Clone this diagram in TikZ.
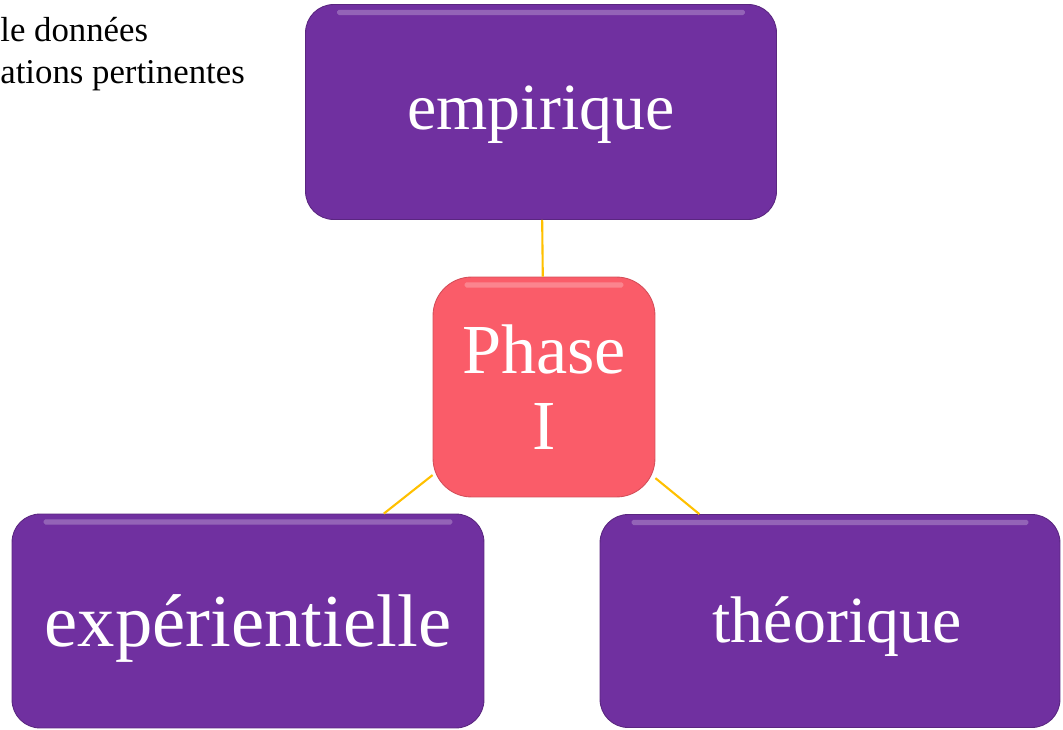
\documentclass[tikz,border=0pt]{standalone}
\usepackage{fontspec}
\setmainfont{Liberation Serif}
\usetikzlibrary{positioning}
\definecolor{mPurple}{HTML}{7030A0}
\definecolor{mRed}{HTML}{FA5C69}
\definecolor{mGold}{HTML}{FFC000}

\begin{document}
\begin{tikzpicture}[x=0.02cm, y=-0.02cm,
      gloss/.style={path picture={\fill[white, opacity=0.25, rounded corners=1pt]
          ([xshift=18pt, yshift=-3pt]path picture bounding box.north west) rectangle
          ([xshift=-18pt, yshift=-6pt]path picture bounding box.north east);}},
      pbox/.style={draw=mPurple!80!black, line width=0.5pt, fill=mPurple, rounded corners=16pt,
          text=white, inner sep=2pt, gloss},
      rbox/.style={draw=mRed!85!black, line width=0.5pt, fill=mRed, rounded corners=22pt,
          text=white, align=center, inner sep=2pt, gloss},
      link/.style={draw=mGold, line width=1.2pt}]
    \useasboundingbox (0,0) rectangle (1063,730);
    \node[anchor=base west, inner sep=0, font=\fontsize{19.8}{24}\selectfont] (l1) at (0,41) {le données};
    \node[anchor=base west, inner sep=0, font=\fontsize{19.8}{24}\selectfont] (l2) at (0,83) {ations pertinentes};
    \node[rbox, minimum width=4.44cm, minimum height=4.4cm, font=\fontsize{40}{43}\selectfont] (ph) at (544,387) {Phase\\I};
    \node[pbox, minimum width=9.42cm, minimum height=4.3cm, font=\fontsize{37.5}{40}\selectfont,
        text height=28pt, text depth=8pt] (emp) at (541,112) {empirique};
    \node[pbox, minimum width=9.44cm, minimum height=4.28cm, font=\fontsize{42.5}{44}\selectfont,
        text height=38pt, text depth=9pt] (exp) at (248,621) {expérientielle};
    \node[pbox, minimum width=9.2cm, minimum height=4.26cm, font=\fontsize{37.5}{40}\selectfont,
        text height=32pt, text depth=8pt] (the) at (830,621) {\hspace*{8pt}théorique};
    \draw[link] (ph) -- (emp);
    \draw[link] (ph) -- (exp);
    \draw[link] (ph) -- (the);
  \end{tikzpicture}
\end{document}
